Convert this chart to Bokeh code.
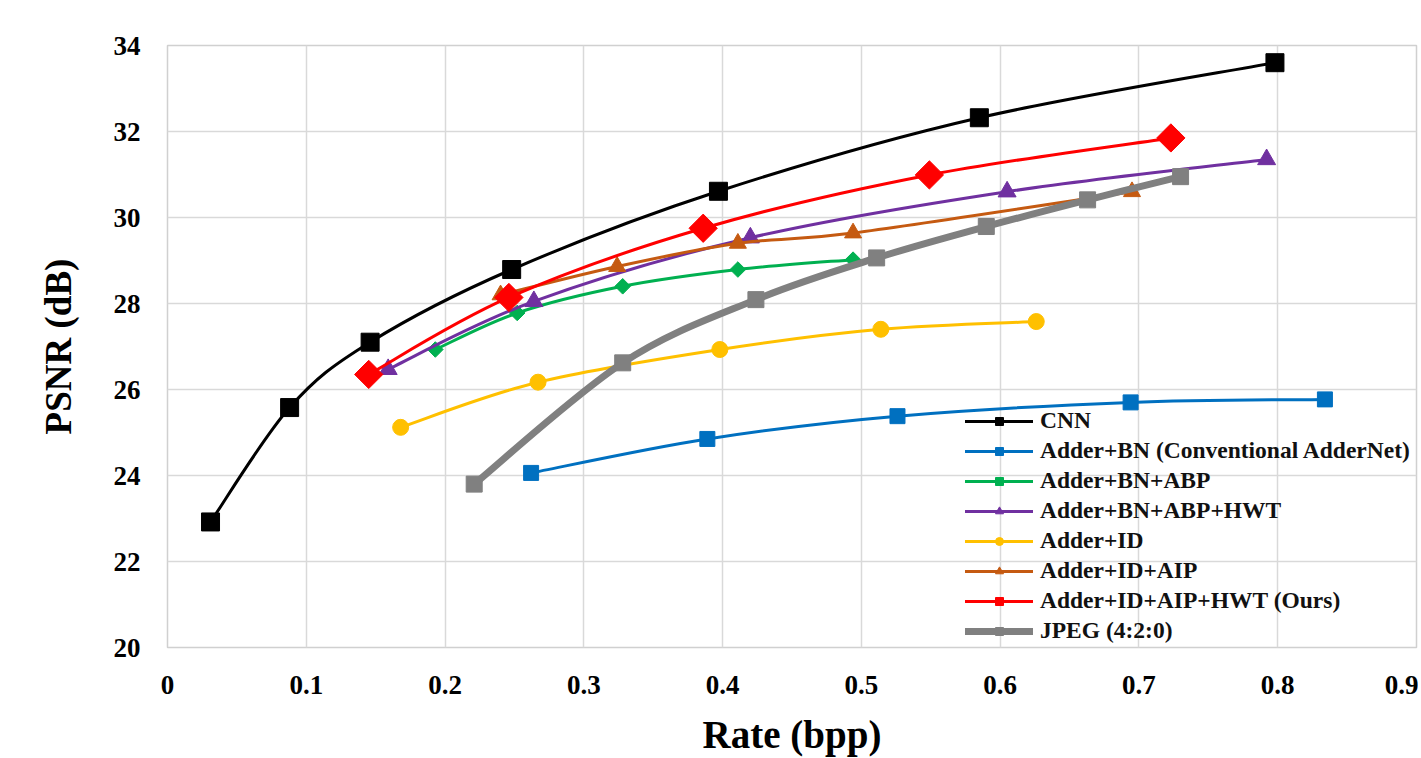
from bokeh.plotting import figure
from bokeh.models import FixedTicker, Legend, LegendItem
from bokeh.embed import file_html
from bokeh.resources import INLINE

# ---------------- data ----------------
x_ticks = [0, 0.1, 0.2, 0.3, 0.4, 0.5, 0.6, 0.7, 0.8, 0.9]
x_tick_labels = ["0", "0.1", "0.2", "0.3", "0.4", "0.5", "0.6", "0.7", "0.8", "0.9"]
y_ticks = [20, 22, 24, 26, 28, 30, 32, 34]

cnn_x = [0.031, 0.088, 0.146, 0.248, 0.397, 0.585, 0.798]
cnn_y = [22.92, 25.58, 27.10, 28.79, 30.61, 32.32, 33.60]

bn_x = [0.262, 0.389, 0.526, 0.694, 0.834]
bn_y = [24.06, 24.85, 25.38, 25.70, 25.77]

bn_abp_x = [0.193, 0.252, 0.328, 0.411, 0.494]
bn_abp_y = [26.93, 27.78, 28.40, 28.79, 29.02]

bn_abp_hwt_x = [0.159, 0.264, 0.420, 0.605, 0.792]
bn_abp_hwt_y = [26.47, 28.05, 29.53, 30.60, 31.35]

id_x = [0.168, 0.267, 0.398, 0.514, 0.626]
id_y = [25.12, 26.17, 26.93, 27.40, 27.58]

id_aip_x = [0.240, 0.324, 0.411, 0.494, 0.695]
id_aip_y = [28.20, 28.86, 29.40, 29.64, 30.60]

ours_x = [0.145, 0.246, 0.386, 0.549, 0.723]
ours_y = [26.35, 28.14, 29.75, 30.99, 31.85]

jpeg_x = [0.221, 0.328, 0.424, 0.511, 0.590, 0.663, 0.730]
jpeg_y = [23.80, 26.62, 28.09, 29.06, 29.79, 30.41, 30.95]

series_names = ["CNN", "Adder+BN (Conventional AdderNet)", "Adder+BN+ABP",
                "Adder+BN+ABP+HWT", "Adder+ID", "Adder+ID+AIP",
                "Adder+ID+AIP+HWT (Ours)", "JPEG (4:2:0)"]

# ---------------- styles ----------------
styles = [
    dict(color="#000000", marker="square", size=18, lw=3, angle=0),
    dict(color="#0070C0", marker="square", size=15, lw=3, angle=0),
    dict(color="#00B050", marker="square", size=11, lw=3, angle=0.785398),
    dict(color="#7030A0", marker="triangle", size=18, lw=3, angle=0),
    dict(color="#FFC000", marker="circle", size=16, lw=3, angle=0),
    dict(color="#C55A11", marker="triangle", size=17, lw=3, angle=0),
    dict(color="#FF0000", marker="square", size=20, lw=3, angle=0.785398),
    dict(color="#808080", marker="square", size=16, lw=7, angle=0),
]

series = [(cnn_x, cnn_y), (bn_x, bn_y), (bn_abp_x, bn_abp_y),
          (bn_abp_hwt_x, bn_abp_hwt_y), (id_x, id_y), (id_aip_x, id_aip_y),
          (ours_x, ours_y), (jpeg_x, jpeg_y)]

FONT = "Liberation Serif"

p = figure(width=1418, height=758, x_range=(0, 0.9), y_range=(20, 34),
           output_backend="svg", toolbar_location=None,
           min_border_left=167, min_border_right=2, min_border_top=45,
           min_border_bottom=109)

p.background_fill_color = "white"
p.border_fill_color = "white"
p.outline_line_color = "#d0d0d0"
p.outline_line_width = 1.5

p.xaxis.ticker = FixedTicker(ticks=x_ticks)
p.yaxis.ticker = FixedTicker(ticks=y_ticks)
p.xaxis.major_label_overrides = {t: l for t, l in zip(x_ticks, x_tick_labels)}

for ax in (p.xaxis, p.yaxis):
    ax.axis_line_color = None
    ax.major_tick_line_color = None
    ax.minor_tick_line_color = None
    ax.major_label_text_font = FONT
    ax.major_label_text_font_style = "bold"
    ax.major_label_text_font_size = "27px"
    ax.major_label_text_color = "#000000"
    ax.axis_label_text_font = FONT
    ax.axis_label_text_font_style = "bold"
    ax.axis_label_text_color = "#000000"

p.xaxis.axis_label_text_font_size = "39px"
p.yaxis.axis_label_text_font_size = "37px"
p.xaxis.axis_label = "Rate (bpp)"
p.yaxis.axis_label = "PSNR (dB)"
p.xaxis.major_label_standoff = 22
p.yaxis.major_label_standoff = 21
p.xaxis.axis_label_standoff = 16
p.yaxis.axis_label_standoff = 32

p.xgrid.grid_line_color = "#d9d9d9"
p.ygrid.grid_line_color = "#d9d9d9"
p.xgrid.grid_line_width = 1.5
p.ygrid.grid_line_width = 1.5


def bezier_controls(xs, ys):
    """Excel-style smoothed line: cubic Bezier per segment (Catmull-Rom form)."""
    n = len(xs)
    out = dict(x0=[], y0=[], x1=[], y1=[], cx0=[], cy0=[], cx1=[], cy1=[])
    for i in range(n - 1):
        xp, yp = (xs[i - 1], ys[i - 1]) if i > 0 else (xs[i], ys[i])
        xn, yn = (xs[i + 2], ys[i + 2]) if i + 2 < n else (xs[i + 1], ys[i + 1])
        out["x0"].append(xs[i]); out["y0"].append(ys[i])
        out["x1"].append(xs[i + 1]); out["y1"].append(ys[i + 1])
        out["cx0"].append(xs[i] + (xs[i + 1] - xp) / 6.0)
        out["cy0"].append(ys[i] + (ys[i + 1] - yp) / 6.0)
        out["cx1"].append(xs[i + 1] - (xn - xs[i]) / 6.0)
        out["cy1"].append(ys[i + 1] - (yn - ys[i]) / 6.0)
    return out


items = []
for name, (xs, ys), st in zip(series_names, series, styles):
    c = bezier_controls(xs, ys)
    r_line = p.bezier(x0=c["x0"], y0=c["y0"], x1=c["x1"], y1=c["y1"],
                      cx0=c["cx0"], cy0=c["cy0"], cx1=c["cx1"], cy1=c["cy1"],
                      line_color=st["color"], line_width=st["lw"],
                      line_cap="round")
    r_mark = p.scatter(xs, ys, marker=st["marker"], size=st["size"],
                       angle=st["angle"], fill_color=st["color"],
                       line_color=st["color"], line_width=1)
    items.append(LegendItem(label=name, renderers=[r_line, r_mark]))

legend = Legend(items=items, location=(798, 3), orientation="vertical")
legend.label_text_font = FONT
legend.label_text_font_style = "bold"
legend.label_text_font_size = "23.5px"
legend.label_text_color = "#111111"
legend.glyph_width = 68
legend.glyph_height = 20
legend.label_height = 20
legend.spacing = 3
legend.padding = 5
legend.margin = 0
legend.label_standoff = 7
legend.border_line_color = None
legend.background_fill_alpha = 0
p.add_layout(legend, "center")

open("out.html", "w").write(file_html(p, INLINE))
